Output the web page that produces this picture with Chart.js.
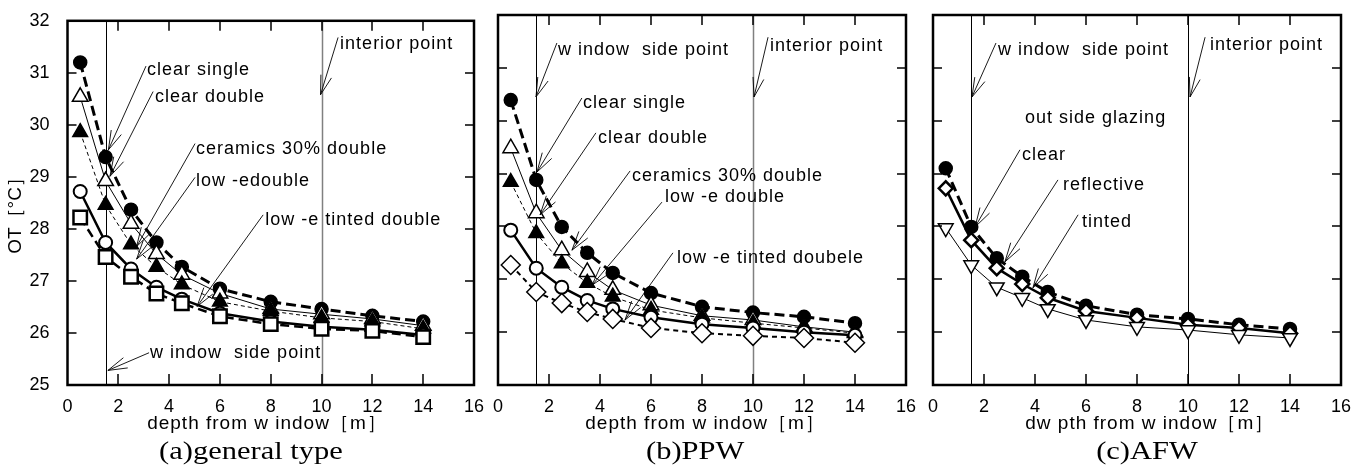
<!DOCTYPE html>
<html>
<head>
<meta charset="utf-8">
<script src="https://cdn.jsdelivr.net/npm/chart.js@4/dist/chart.umd.min.js"></script>
<style>
  html, body { margin: 0; padding: 0; background: #fff; }
  #wrap { position: relative; width: 1370px; height: 472px; }
  #wrap canvas { position: absolute; left: 0; top: 0; }
</style>
</head>
<body>
<div id="wrap">
  <canvas id="ca" width="1370" height="472"></canvas>
  <canvas id="cb" width="1370" height="472"></canvas>
  <canvas id="cc" width="1370" height="472"></canvas>
</div>
<script>
// ---------- data ----------
const depth = [0.5, 1.5, 2.5, 3.5, 4.5, 6, 8, 10, 12, 14];
const xTickValues = [0, 2, 4, 6, 8, 10, 12, 14, 16];
const yTickValues = [25, 26, 27, 28, 29, 30, 31, 32];
const refLines = [1.5, 10];

// (a) general type
const aClearSingle  = [31.2, 29.38, 28.37, 27.74, 27.27, 26.85, 26.6, 26.46, 26.33, 26.22];
const aClearDouble  = [30.54, 28.92, 28.1, 27.52, 27.12, 26.76, 26.46, 26.36, 26.27, 26.14];
const aCeramics     = [29.86, 28.46, 27.7, 27.27, 26.93, 26.6, 26.42, 26.29, 26.22, 26.08];
const aLowE         = [28.72, 27.74, 27.23, 26.88, 26.65, 26.38, 26.22, 26.12, 26.06, 25.96];
const aLowETinted   = [28.22, 27.46, 27.08, 26.76, 26.57, 26.32, 26.17, 26.08, 26.04, 25.92];

// (b) PPW
const bClearSingle  = [30.39, 28.88, 27.99, 27.5, 27.12, 26.74, 26.48, 26.37, 26.29, 26.17];
const bClearDouble  = [29.48, 28.25, 27.55, 27.14, 26.8, 26.51, 26.31, 26.23, 26.1, 26.0];
const bCeramics     = [28.84, 27.87, 27.3, 26.93, 26.67, 26.42, 26.27, 26.17, 26.08, 25.98];
const bLowE         = [27.93, 27.21, 26.85, 26.6, 26.44, 26.28, 26.15, 26.08, 26.0, 25.94];
const bLowETinted   = [27.27, 26.76, 26.55, 26.38, 26.25, 26.08, 25.98, 25.93, 25.89, 25.8];

// (c) AFW
const cClear        = [29.1, 27.99, 27.4, 27.05, 26.76, 26.5, 26.33, 26.25, 26.14, 26.06];
const cReflective   = [28.72, 27.74, 27.21, 26.91, 26.65, 26.4, 26.27, 26.14, 26.08, 25.98];
const cTinted       = [27.97, 27.27, 26.85, 26.65, 26.44, 26.23, 26.1, 26.04, 25.95, 25.89];

// annotations (data coordinates): text pos, leader start, arrow tip
const annA = [
  {text: 'interior point',       tx: 10.73, ty: 31.55, sx: 10.65, sy: 31.68, ax: 9.96, ay: 30.58},
  {text: 'clear single',         tx: 3.13,  ty: 31.05, sx: 3.09,  sy: 31.13, ax: 1.61, ay: 29.52},
  {text: 'clear double',         tx: 3.44,  ty: 30.54, sx: 3.37,  sy: 30.64, ax: 1.67, ay: 29.01},
  {text: 'ceramics 30% double',  tx: 5.06,  ty: 29.54, sx: 5.02,  sy: 29.64, ax: 2.72, ay: 27.66},
  {text: 'low -edouble',         tx: 5.06,  ty: 28.92, sx: 5.02,  sy: 28.99, ax: 2.72, ay: 27.42},
  {text: 'low -e tinted double', tx: 7.78,  ty: 28.18, sx: 7.70,  sy: 28.27, ax: 5.10, ay: 26.51},
  {text: 'w indow  side point',  tx: 3.25,  ty: 25.61, sx: 3.21,  sy: 25.62, ax: 1.59, ay: 25.28}
];
const annB = [
  {text: 'w indow  side point',  tx: 2.35,  ty: 31.34, sx: 2.31,  sy: 31.47, ax: 1.49, ay: 30.45},
  {text: 'interior point',       tx: 10.67, ty: 31.41, sx: 10.59, sy: 31.58, ax: 10.04, ay: 30.45},
  {text: 'clear single',         tx: 3.33,  ty: 30.34, sx: 3.29,  sy: 30.43, ax: 1.53, ay: 29.03},
  {text: 'clear double',         tx: 3.92,  ty: 29.67, sx: 3.84,  sy: 29.77, ax: 1.65, ay: 28.22},
  {text: 'ceramics 30% double',  tx: 5.25,  ty: 28.95, sx: 5.18,  sy: 29.05, ax: 2.9,  ay: 27.55},
  {text: 'low -e double',        tx: 6.55,  ty: 28.56, sx: 6.43,  sy: 28.46, ax: 3.69, ay: 26.89},
  {text: 'low -e tinted doubele',tx: 7.02,  ty: 27.4,  sx: 6.86,  sy: 27.5,  ax: 4.98, ay: 26.23}
];
const annC = [
  {text: 'w indow  side point',  tx: 2.55,  ty: 31.34, sx: 2.47,  sy: 31.47, ax: 1.53, ay: 30.45},
  {text: 'interior point',       tx: 10.86, ty: 31.43, sx: 10.67, sy: 31.58, ax: 10.08, ay: 30.45},
  {text: 'out side glazing',     tx: 3.61,  ty: 30.05},
  {text: 'clear',                tx: 3.49,  ty: 29.35, sx: 3.41,  sy: 29.45, ax: 1.65, ay: 27.99},
  {text: 'reflective',           tx: 5.10,  ty: 28.78, sx: 4.9,   sy: 28.88, ax: 2.82, ay: 27.33},
  {text: 'tinted',               tx: 5.84,  ty: 28.08, sx: 5.69,  sy: 28.22, ax: 3.92, ay: 26.84}
];

// ---------- styles ----------
const SANS = '"Liberation Sans", Arial, sans-serif';
const SERIF = '"Liberation Serif", "Times New Roman", serif';

const pts = arr => depth.map((x, i) => ({x, y: arr[i]}));

function ds(data, s) {
  return Object.assign({
    data: pts(data), borderColor: '#000', tension: 0, fill: false,
    pointBorderColor: '#000', pointBackgroundColor: '#000',
    borderDash: [], pointRadius: 7, pointBorderWidth: 1.5, borderWidth: 1
  }, s);
}
function ordered(list) {
  const n = list.length;
  list.forEach((d, i) => d.order = n - 1 - i);
  return list;
}

const dsA = ordered([
  ds(aClearSingle, {borderWidth: 3, borderDash: [10, 5], pointStyle: 'circle', pointRadius: 6.5}),
  ds(aClearDouble, {borderWidth: 1, pointStyle: 'triangle', pointRadius: 9, pointBackgroundColor: '#fff'}),
  ds(aCeramics,    {borderWidth: 1, borderDash: [4, 3], pointStyle: 'triangle', pointRadius: 8.5}),
  ds(aLowE,        {borderWidth: 2.5, pointStyle: 'circle', pointRadius: 6.5, pointBackgroundColor: '#fff', pointBorderWidth: 2}),
  ds(aLowETinted,  {borderWidth: 2.5, borderDash: [9, 5], pointStyle: 'rect', pointRadius: 9.5, pointBackgroundColor: '#fff', pointBorderWidth: 2.5})
]);
const dsB = ordered([
  ds(bClearSingle, {borderWidth: 3, borderDash: [10, 5], pointStyle: 'circle', pointRadius: 6.5}),
  ds(bClearDouble, {borderWidth: 1, pointStyle: 'triangle', pointRadius: 9, pointBackgroundColor: '#fff'}),
  ds(bCeramics,    {borderWidth: 1, borderDash: [4, 3], pointStyle: 'triangle', pointRadius: 8.5}),
  ds(bLowE,        {borderWidth: 2.5, pointStyle: 'circle', pointRadius: 6.5, pointBackgroundColor: '#fff', pointBorderWidth: 2}),
  ds(bLowETinted,  {borderWidth: 2, borderDash: [5, 4], pointStyle: 'rectRot', pointRadius: 9.5, pointBackgroundColor: '#fff', pointBorderWidth: 1.5})
]);
const dsC = ordered([
  ds(cClear,      {borderWidth: 3, borderDash: [10, 5], pointStyle: 'circle', pointRadius: 6.5}),
  ds(cReflective, {borderWidth: 2.5, pointStyle: 'rectRot', pointRadius: 7, pointBackgroundColor: '#fff', pointBorderWidth: 2.5}),
  ds(cTinted,     {borderWidth: 1, pointStyle: 'triangle', pointRotation: 180, pointRadius: 8.5, pointBackgroundColor: '#fff'})
]);

// ---------- decoration plugin ----------
function spacedText(ctx, text, x, y, spacing) {
  if ('letterSpacing' in ctx) { ctx.letterSpacing = spacing + 'px'; ctx.fillText(text, x, y); ctx.letterSpacing = '0px'; }
  else ctx.fillText(text, x, y);
}

const decoPlugin = {
  id: 'deco',
  beforeDatasetsDraw(chart, args, o) {
    const {ctx, chartArea: ca, scales: {x}} = chart;
    ctx.save();
    refLines.forEach((v, i) => {
      const px = Math.round(x.getPixelForValue(v)) + 0.5;
      ctx.strokeStyle = i === 1 ? o.line10Color : '#000';
      ctx.lineWidth = i === 1 ? o.line10Width : 1;
      ctx.beginPath(); ctx.moveTo(px, ca.top); ctx.lineTo(px, ca.bottom); ctx.stroke();
    });
    ctx.restore();
  },
  afterDatasetsDraw(chart, args, o) {
    const {ctx, chartArea: ca, scales: {x, y}} = chart;
    ctx.save();
    // inward tick marks
    ctx.strokeStyle = '#000'; ctx.lineWidth = 1.5;
    ctx.beginPath();
    x.ticks.forEach(t => {
      if (t.value <= x.min || t.value >= x.max) return;
      const px = Math.round(x.getPixelForValue(t.value));
      ctx.moveTo(px, ca.bottom); ctx.lineTo(px, ca.bottom - 11);
      ctx.moveTo(px, ca.top); ctx.lineTo(px, ca.top + 10);
    });
    y.ticks.forEach(t => {
      if (t.value <= y.min || t.value >= y.max) return;
      const py = Math.round(y.getPixelForValue(t.value));
      ctx.moveTo(ca.left, py); ctx.lineTo(ca.left + 9, py);
      ctx.moveTo(ca.right, py); ctx.lineTo(ca.right - 9, py);
    });
    ctx.stroke();
    // frame
    ctx.lineWidth = 2.5;
    ctx.strokeRect(ca.left, ca.top, ca.right - ca.left, ca.bottom - ca.top);

    // annotations
    ctx.font = '18px ' + SANS;
    ctx.fillStyle = '#000';
    ctx.textBaseline = 'middle';
    ctx.textAlign = 'left';
    o.annotations.forEach(a => {
      spacedText(ctx, a.text, x.getPixelForValue(a.tx), y.getPixelForValue(a.ty), 1);
      if (a.sx === undefined) return;
      const sx = x.getPixelForValue(a.sx), sy = y.getPixelForValue(a.sy);
      const tx = x.getPixelForValue(a.ax), ty = y.getPixelForValue(a.ay);
      ctx.lineWidth = 0.9;
      ctx.beginPath(); ctx.moveTo(sx, sy); ctx.lineTo(tx, ty);
      const ang = Math.atan2(sy - ty, sx - tx);
      [-0.28, 0.28].forEach(d => {
        ctx.moveTo(tx, ty);
        ctx.lineTo(tx + 20 * Math.cos(ang + d), ty + 20 * Math.sin(ang + d));
      });
      ctx.stroke();
    });

    // x axis title
    ctx.textAlign = 'center';
    ctx.font = '19px ' + SANS;
    spacedText(ctx, o.xTitle, x.getPixelForValue(o.xTitleAt), 424, 1);
    // caption (serif, horizontally stretched like the original)
    ctx.font = '25px ' + SERIF;
    ctx.save();
    ctx.translate(x.getPixelForValue(o.captionAt), 452);
    ctx.scale(1.22, 1);
    ctx.fillText(o.caption, 0, 0);
    ctx.restore();
    // y axis title
    if (o.yTitle) {
      ctx.save();
      ctx.translate(16, 211);
      ctx.rotate(-Math.PI / 2);
      ctx.font = '19px ' + SANS;
      ctx.fillText(o.yTitle, 0, 0);
      ctx.restore();
    }
    ctx.restore();
  }
};

function makeChart(id, left, right, showY, datasets, deco) {
  const tickFont = {family: SANS, size: 18};
  return new Chart(document.getElementById(id), {
    type: 'line',
    data: {datasets},
    options: {
      responsive: false, animation: false, devicePixelRatio: 1,
      layout: {autoPadding: false, padding: {left: showY ? 0 : left, right: 1370 - right, top: 15, bottom: 0}},
      plugins: {legend: {display: false}, tooltip: {enabled: false}, deco},
      scales: {
        x: {
          type: 'linear', min: 0, max: 16,
          afterBuildTicks: s => { s.ticks = xTickValues.map(v => ({value: v})); },
          afterFit: s => { s.height = 87; },
          grid: {display: false}, border: {display: false},
          ticks: {font: tickFont, color: '#000', padding: 3, maxRotation: 0, autoSkip: false}
        },
        y: {
          type: 'linear', min: 25, max: 32,
          afterBuildTicks: s => { s.ticks = yTickValues.map(v => ({value: v})); },
          afterFit: s => { s.width = showY ? left : 0; },
          grid: {display: false}, border: {display: false},
          ticks: {display: showY, font: tickFont, color: '#000', padding: 10}
        }
      }
    },
    plugins: [decoPlugin]
  });
}

makeChart('ca', 67.5, 474, true, dsA, {
  annotations: annA, xTitle: 'depth from w indow［m］', xTitleAt: 7.85,
  caption: '(a)general type', captionAt: 7.22, yTitle: 'OT［°C］',
  line10Color: '#808080', line10Width: 1.5
});
makeChart('cb', 498, 906, false, dsB, {
  annotations: annB, xTitle: 'depth from w indow［m］', xTitleAt: 8.12,
  caption: '(b)PPW', captionAt: 7.73,
  line10Color: '#808080', line10Width: 1.5
});
makeChart('cc', 933, 1341, false, dsC, {
  annotations: annC, xTitle: 'dw pth from w indow［m］', xTitleAt: 8.5,
  caption: '(c)AFW', captionAt: 8.39,
  line10Color: '#000', line10Width: 1
});
</script>
</body>
</html>
